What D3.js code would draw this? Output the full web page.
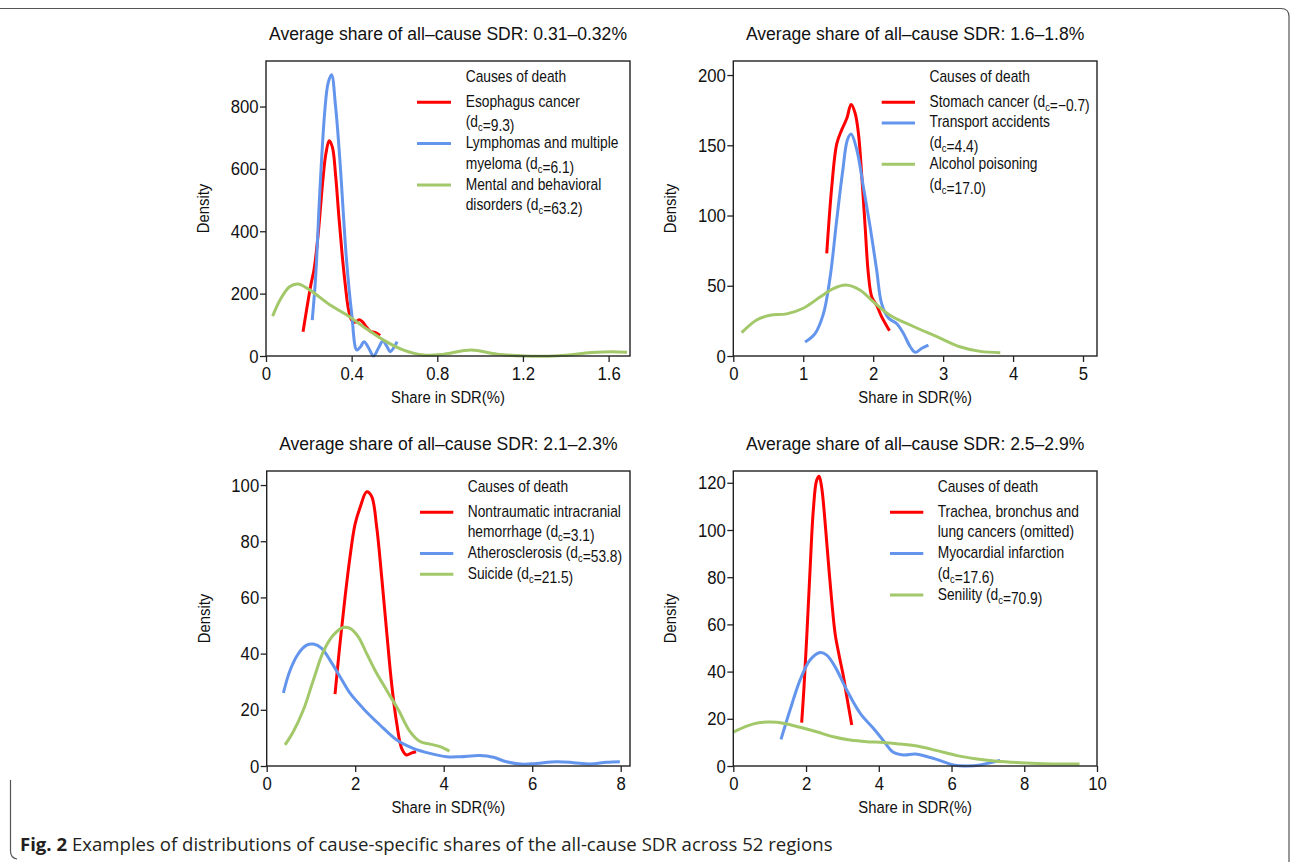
<!DOCTYPE html>
<html><head><meta charset="utf-8">
<script src="https://cdn.jsdelivr.net/npm/d3@7"></script>
<style>
html,body{margin:0;padding:0;background:#fff;}
svg{display:block;}
</style></head>
<body>
<svg id="chart" width="1290" height="862"></svg>
<script>
// ---------------- DATA ----------------
const panelTitles = [
  "Average share of all\u2013cause SDR: 0.31\u20130.32%",
  "Average share of all\u2013cause SDR: 1.6\u20131.8%",
  "Average share of all\u2013cause SDR: 2.1\u20132.3%",
  "Average share of all\u2013cause SDR: 2.5\u20132.9%"
];
const xTicks1 = [0, 0.4, 0.8, 1.2, 1.6];
const yTicks1 = [0, 200, 400, 600, 800];
const xTicks2 = [0, 1, 2, 3, 4, 5];
const yTicks2 = [0, 50, 100, 150, 200];
const xTicks3 = [0, 2, 4, 6, 8];
const yTicks3 = [0, 20, 40, 60, 80, 100];
const xTicks4 = [0, 2, 4, 6, 8, 10];
const yTicks4 = [0, 20, 40, 60, 80, 100, 120];

// Panel 1
const esophagus = [[0.173,78],[0.19,150],[0.21,230],[0.225,280],[0.245,400],[0.265,560],[0.28,650],[0.295,690],[0.31,670],[0.325,580],[0.34,450],[0.355,330],[0.37,230],[0.385,150],[0.40,115],[0.415,108],[0.435,116],[0.45,110],[0.47,92],[0.49,78],[0.51,76],[0.533,66]];
const lymphomas = [[0.216,115],[0.232,255],[0.251,522],[0.275,789],[0.29,875],[0.306,902],[0.325,800],[0.345,629],[0.376,308],[0.40,137],[0.424,19],[0.442,30],[0.458,46],[0.48,25],[0.502,0],[0.525,25],[0.546,48],[0.565,30],[0.58,14],[0.598,28],[0.612,46]];
const mental = [[0.031,128],[0.07,185],[0.11,222],[0.149,231],[0.204,212],[0.298,164],[0.376,132],[0.455,94],[0.549,51],[0.643,19],[0.737,3],[0.831,6],[0.957,19],[1.08,6],[1.21,0],[1.365,1],[1.52,11],[1.616,14],[1.686,12]];
// Panel 2
const stomach = [[1.336,73],[1.407,120],[1.479,151],[1.55,161],[1.622,169],[1.684,179],[1.741,173],[1.79,158],[1.837,128],[1.885,92],[1.93,59],[1.98,42],[2.05,36],[2.12,28],[2.233,18]];
const transport = [[1.026,10],[1.169,16],[1.288,30],[1.384,56],[1.479,97],[1.565,132],[1.632,154],[1.684,158],[1.765,147],[1.861,120],[1.956,92],[2.05,61],[2.12,37.5],[2.218,27],[2.338,23],[2.433,16],[2.53,6.6],[2.6,2.6],[2.696,5.5],[2.79,7.8]];
const alcohol = [[0.119,16.6],[0.334,25.6],[0.525,29],[0.763,30],[1.0,34],[1.24,42],[1.43,48],[1.61,50.5],[1.81,47],[2.0,38.7],[2.24,29],[2.576,21],[2.91,13.8],[3.24,6.6],[3.53,3.3],[3.817,2.4]];
// Panel 3
const hemorrhage = [[1.544,25.6],[1.657,43.7],[1.77,60],[1.883,74.5],[1.996,86],[2.11,92],[2.26,97.6],[2.37,96],[2.486,85],[2.6,67],[2.71,48],[2.825,29],[2.94,15],[3.05,6.3],[3.16,3.9],[3.28,4.7],[3.375,5.1]];
const atherosclerosis = [[0.377,26],[0.527,34],[0.716,40],[0.904,43],[1.055,43.4],[1.243,41.9],[1.43,37.7],[1.657,31.8],[1.883,25.9],[2.18,20.5],[2.56,14.6],[2.94,9.25],[3.31,6.3],[3.69,4.5],[4.07,3.3],[4.37,3.3],[4.82,3.7],[5.12,3.1],[5.42,1.5],[5.8,0.6],[6.1,0.9],[6.55,1.5],[6.93,1.2],[7.3,0.7],[7.68,1.3],[7.98,1.5]];
const suicide = [[0.414,7.5],[0.6,12.2],[0.83,20],[1.055,30.6],[1.28,40.7],[1.507,46.6],[1.73,49.3],[1.883,49],[2.07,46],[2.26,40],[2.45,34],[2.71,27],[2.975,20],[3.24,12.2],[3.465,8.7],[3.69,7.8],[3.92,6.9],[4.13,5.3]];
// Panel 4
const lungCancer = [[1.88,18.4],[1.945,33.6],[2.02,54.8],[2.11,83],[2.2,108.4],[2.29,121],[2.36,122.8],[2.43,118],[2.52,104],[2.61,87],[2.706,70],[2.8,56],[2.917,46.3],[3.03,37.8],[3.12,29.4],[3.257,17.4]];
const myocardial = [[1.312,11.3],[1.56,23.7],[1.835,36.4],[2.11,44.9],[2.385,48.1],[2.57,47],[2.8,42],[3.12,32.2],[3.49,22.3],[3.85,16],[4.13,10.7],[4.4,5.8],[4.68,4.7],[5.0,5.1],[5.32,4],[5.69,2.3],[6.06,0.4],[6.42,0],[6.79,0.4],[7.06,1.4],[7.34,2.3]];
const senility = [[0,14.3],[0.367,16.9],[0.734,18.4],[1.01,18.6],[1.376,18.1],[1.835,16.4],[2.29,14.5],[2.75,12.4],[3.21,11],[3.67,10.3],[4.13,10],[4.59,9.3],[5.05,8.5],[5.6,6.5],[6.15,4.4],[6.7,3],[7.25,2],[7.89,1.4],[8.53,1],[8.99,0.85],[9.52,0.85]];

// legend labels: "d{c}" marks subscript
const legend1 = [["Esophagus cancer","(d{c}=9.3)"],["Lymphomas and multiple","myeloma (d{c}=6.1)"],["Mental and behavioral","disorders (d{c}=63.2)"]];
const legend2 = [["Stomach cancer (d{c}=\u22120.7)"],["Transport accidents","(d{c}=4.4)"],["Alcohol poisoning","(d{c}=17.0)"]];
const legend3 = [["Nontraumatic intracranial","hemorrhage (d{c}=3.1)"],["Atherosclerosis (d{c}=53.8)"],["Suicide (d{c}=21.5)"]];
const legend4 = [["Trachea, bronchus and","lung cancers (omitted)"],["Myocardial infarction","(d{c}=17.6)"],["Senility (d{c}=70.9)"]];
const legendTitle = "Causes of death";
const xLabel = "Share in SDR(%)";
const yLabel = "Density";
const captionBold = "Fig. 2";
const captionText = " Examples of distributions of cause-specific shares of the all-cause SDR across 52 regions";

// ---------------- LAYOUT / STYLE ----------------
const seriesColors = ["#FF0000", "#6495ED", "#A2C86A"];
const FONT = "'Liberation Sans',Arial,sans-serif";
const INK = "#111";
const panels = [
  {l:266, t:61, r:630, b:356, xd:[0,1.70], yd:[0,946], xt:xTicks1, yt:yTicks1, series:[esophagus,lymphomas,mental], legend:legend1, lx:465.7, ly:81.5, sx:[417,451], title:panelTitles[0], fmtX:d=>d===0?"0":d3.format(".1f")(d)},
  {l:733.3, t:61, r:1097, b:356, xd:[0,5.2], yd:[0,210], xt:xTicks2, yt:yTicks2, series:[stomach,transport,alcohol], legend:legend2, lx:929.5, ly:81.5, sx:[881.7,915], title:panelTitles[1], fmtX:d3.format("d")},
  {l:266.7, t:471, r:630, b:766, xd:[0,8.21], yd:[0,105], xt:xTicks3, yt:yTicks3, series:[hemorrhage,atherosclerosis,suicide], legend:legend3, lx:467.7, ly:491.5, sx:[420,453.3], title:panelTitles[2], fmtX:d3.format("d")},
  {l:733.3, t:471, r:1097, b:766, xd:[0,10], yd:[0,125], xt:xTicks4, yt:yTicks4, series:[lungCancer,myocardial,senility], legend:legend4, lx:937.7, ly:491.5, sx:[890,923.3], title:panelTitles[3], fmtX:d3.format("d")}
];

const svg = d3.select("#chart");
svg.append("rect").attr("width",1290).attr("height",862).attr("fill","#fff");

// outer figure border
svg.append("path")
  .attr("d","M0,8.5 L1281,8.5 Q1289,8.5 1289,16.5 L1289,870")
  .attr("fill","none").attr("stroke","#555").attr("stroke-width",1.2);
svg.append("path")
  .attr("d","M10.5,780 L10.5,851 Q10.5,858 17,859")
  .attr("fill","none").attr("stroke","#555").attr("stroke-width",1.2);

// condensed text: a text inside a horizontally scaled group
function condText(parent, x, y, f, fs, anchor, rot) {
  const tr = rot ? `translate(${x},${y}) rotate(${rot}) scale(${f},1)` : `translate(${x},${y}) scale(${f},1)`;
  return parent.append("g").attr("transform", tr).append("text")
    .attr("x",0).attr("y",0).attr("text-anchor",anchor||"start")
    .attr("font-family",FONT).attr("font-size",fs).attr("fill",INK);
}

function addRich(textSel, str, fs) {
  const parts = str.split("d{c}");
  parts.forEach((p, i) => {
    if (i > 0) {
      textSel.append("tspan").text("d");
      textSel.append("tspan").attr("font-size", fs*0.68).attr("dy", 4).text("c");
      textSel.append("tspan").attr("dy", -4).text("");
    }
    if (p.length) textSel.append("tspan").text(p);
  });
}

panels.forEach(P => {
  const g = svg.append("g");
  const x = d3.scaleLinear().domain(P.xd).range([P.l, P.r]);
  const y = d3.scaleLinear().domain(P.yd).range([P.b, P.t]);

  // title
  condText(g, (P.l+P.r)/2, P.t-21.5, 0.95, 18.5, "middle").text(P.title);

  // curves
  const line = d3.line().x(d=>x(d[0])).y(d=>y(d[1])).curve(d3.curveCatmullRom.alpha(0.5));
  P.series.forEach((s,i) => {
    g.append("path").datum(s).attr("d",line).attr("fill","none")
      .attr("stroke",seriesColors[i]).attr("stroke-width",3).attr("stroke-linejoin","round").attr("stroke-linecap","butt");
  });

  // frame
  g.append("rect").attr("x",P.l).attr("y",P.t).attr("width",P.r-P.l).attr("height",P.b-P.t)
    .attr("fill","none").attr("stroke","#222").attr("stroke-width",1.4);

  // axes
  const xAxis = d3.axisBottom(x).tickValues(P.xt).tickSize(6).tickPadding(4.5).tickFormat(P.fmtX);
  const yAxis = d3.axisLeft(y).tickValues(P.yt).tickSize(6).tickPadding(1.5);
  const gx = g.append("g").attr("transform",`translate(0,${P.b})`).call(xAxis);
  const gy = g.append("g").attr("transform",`translate(${P.l},0)`).call(yAxis);
  [gx,gy].forEach(a => {
    a.select(".domain").remove();
    a.selectAll(".tick line").attr("stroke","#222").attr("stroke-width",1.3);
    a.selectAll(".tick text").attr("font-family",FONT).attr("font-size",19).attr("fill",INK);
  });
  gx.selectAll(".tick text").attr("transform","scale(0.88,1)");
  gy.selectAll(".tick text").attr("x",0).attr("transform","translate(-7.5,0) scale(0.88,1)");

  // axis labels
  condText(g, (P.l+P.r)/2, P.b+47, 0.9, 16.5, "middle").text(xLabel);
  condText(g, P.l-57, (P.t+P.b)/2, 0.9, 16.5, "middle", -90).text(yLabel);

  // legend
  const lg = g.append("g");
  condText(lg, P.lx, P.ly, 0.862, 16, "start").text(legendTitle);
  let row = 0;
  const rowH = 20.7;
  const firstBase = P.ly + 25.2;
  P.legend.forEach((lines,i) => {
    const yb = firstBase + row*rowH;
    lg.append("line").attr("x1",P.sx[0]).attr("x2",P.sx[1]).attr("y1",yb-4.5).attr("y2",yb-4.5)
      .attr("stroke",seriesColors[i]).attr("stroke-width",3);
    lines.forEach((ln,k) => {
      const t = condText(lg, P.lx, yb + k*rowH, 0.862, 16, "start");
      addRich(t, ln, 16);
    });
    row += lines.length;
  });
});

// caption (fit to measured reference span)
const capG = svg.append("g").attr("transform","translate(20,851)");
const cap = capG.append("text").attr("x",0).attr("y",0).attr("font-family","'Open Sans',sans-serif").attr("font-size",17.5).attr("fill","#231f20");
cap.append("tspan").attr("font-weight","bold").text(captionBold);
cap.append("tspan").text(captionText);
const capW = cap.node().getComputedTextLength();
capG.attr("transform",`translate(20,851) scale(${813/capW},1)`);
</script>
</body></html>
